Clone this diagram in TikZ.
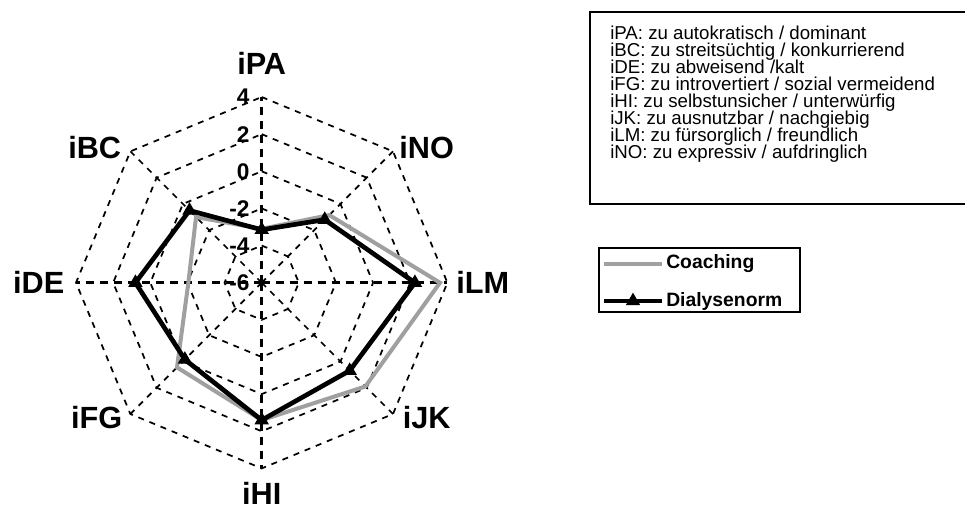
\documentclass[tikz,border=0pt]{standalone}
\usepackage{fontspec}
\setmainfont{Liberation Sans}
\usetikzlibrary{shapes.geometric, calc}
\definecolor{coachgray}{HTML}{A0A0A0}

\begin{document}
\begin{tikzpicture}[x=0.75pt, y=-0.75pt,
    ring/.style={dash pattern=on 4.5pt off 4.5pt, line width=1.3pt},
    spoke/.style={dash pattern=on 6pt off 4.5pt, line width=2.2pt},
    diagspoke/.style={dash pattern=on 4.5pt off 4.5pt, line width=1.3pt},
    ticklabel/.style={anchor=east, inner sep=0pt, font=\bfseries\fontsize{17pt}{17pt}\selectfont},
    axislabel/.style={inner sep=0pt, font=\bfseries\fontsize{23pt}{23pt}\selectfont},
    coach/.style={line width=3pt, color=coachgray},
    norm/.style={line width=3.5pt, color=black},
    marker/.style={regular polygon, regular polygon sides=3, fill=black, inner sep=0pt, minimum size=12.5pt},
    frame/.style={draw=black, line width=1pt},
    desctext/.style={anchor=base west, inner sep=0pt, font=\fontsize{14pt}{14pt}\selectfont},
    legtext/.style={anchor=west, inner sep=0pt, font=\bfseries\fontsize{14.5pt}{14.5pt}\selectfont},
  ]
  \useasboundingbox (0,0) rectangle (965,512);

  % Radar chart
  \begin{scope}[shift={(261.7,282.7)}, y=0.75pt]
    \coordinate (ctr) at (0,0);
    % grid
    \foreach \k in {1,...,5}
      \draw[ring] (90:\k*37.14) \foreach \a in {45,0,...,-225} { -- (\a:\k*37.14) } -- cycle;
    \foreach \a in {0,90,180,270}
      \draw[spoke] (ctr) -- (\a:185.7);
    \foreach \a in {45,135,225,315}
      \draw[diagspoke] (ctr) -- (\a:185.7);

    % scale
    \foreach \v [count=\i from 0] in {-6,-4,-2,0,2,4}
      \node[ticklabel] (t\i) at (-12,\i*37.14) {\v};

    % axis names
    \foreach \nm/\px/\py in {iPA/0/219, iNO/165/135, iLM/221/0, iJK/165/-135,
                             iHI/0/-211, iFG/-165/-135, iDE/-223/0, iBC/-167/135}
      \node[axislabel] (\nm) at (\px,\py) {\nm};

    % series
    \foreach \v [count=\i from 0] in {-3.1,-0.85,3.6,1.9,1.4,0.45,-2.05,-1.0}
      \coordinate (c\i) at ({90-45*\i}:{(\v+6)*18.57});
    \foreach \v [count=\i from 0] in {-3.15,-1.2,2.25,0.7,1.4,-0.15,0.8,-0.5}
      \coordinate (d\i) at ({90-45*\i}:{(\v+6)*18.57});

    \draw[coach] (c0) -- (c1) -- (c2) -- (c3) -- (c4) -- (c5) -- (c6) -- (c7) -- cycle;
    \draw[norm] (d0) -- (d1) -- (d2) -- (d3) -- (d4) -- (d5) -- (d6) -- (d7) -- cycle;
    \foreach \i in {0,...,7}
      \node[marker] (m\i) at (d\i) {};
  \end{scope}

  % Description box
  \draw[frame] (590,12) rectangle (970,204);
  \foreach \txt [count=\i from 0] in {iPA: zu autokratisch / dominant,
      iBC: zu streitsüchtig / konkurrierend,
      iDE: zu abweisend /kalt,
      iFG: zu introvertiert / sozial vermeidend,
      iHI: zu selbstunsicher / unterwürfig,
      iJK: zu ausnutzbar / nachgiebig,
      iLM: zu fürsorglich / freundlich,
      iNO: zu expressiv / aufdringlich}
    \node[desctext] (desc\i) at (610,39+17*\i) {\txt};

  % Legend
  \draw[frame] (599,248) rectangle (800,312);
  \coordinate (cs0) at (604,264);
  \coordinate (cs1) at (662,264);
  \coordinate (ns0) at (604,301);
  \coordinate (ns1) at (662,301);
  \draw[coach] (cs0) -- (cs1);
  \draw[norm] (ns0) -- (ns1);
  \node[marker] (lm) at ($(ns0)!0.5!(ns1)$) {};
  \node[legtext] (lcoach) at (666,264) {Coaching};
  \node[legtext] (lnorm) at (666,301) {Dialysenorm};
\end{tikzpicture}
\end{document}
